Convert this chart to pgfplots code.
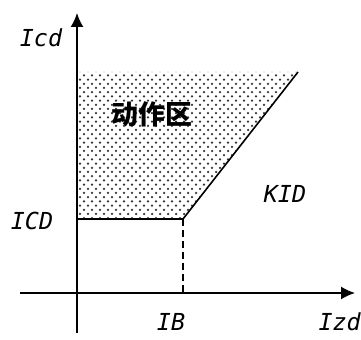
\documentclass[border=0pt]{standalone}
\usepackage{fontspec}
\usepackage{pgfplots}
\pgfplotsset{compat=1.18}
\usetikzlibrary{arrows.meta,patterns.meta}
\newfontfamily\lab{DejaVu Sans Mono}
\newfontfamily\cjk{Noto Sans CJK SC}

\tikzdeclarepattern{
  name=stagdots,
  type=uncolored,
  bottom left={(-1.5bp,-1.5bp)},
  top right={(6.5bp,6.9bp)},
  tile size={(8bp,8.4bp)},
  code={
    \fill (0bp,0bp) circle (1.25bp);
    \fill (4bp,4.2bp) circle (1.25bp);
  }
}
\tikzset{lbl/.style={font=\lab\itshape\fontsize{23.5}{26}\selectfont}}

\begin{document}
\begin{tikzpicture}
\begin{axis}[
    scale only axis,
    width=361bp, height=340bp,
    xmin=0, xmax=361, ymin=0, ymax=340,
    hide axis,
    clip=false,
]

% keep the full frame as the picture's size
\path (axis cs:0,0) rectangle (axis cs:361,340);

% operating region
\addplot[draw=none, pattern=stagdots, pattern color=black!80] coordinates {
    (77,268) (298,268) (183,121) (77,121)
} -- cycle;

% characteristic
\addplot[black, line width=1.6bp] coordinates {(77,121) (183,121) (298,268)};
\addplot[black, line width=1.4bp, dash pattern=on 7bp off 4bp] coordinates {(183,121) (183,47)};

% axes
\addplot[black, line width=1.6bp, -{Latex[length=14bp,width=13bp]}] coordinates {(77,7) (77,327)};
\addplot[black, line width=1.6bp, -{Latex[length=14bp,width=13bp]}] coordinates {(20,47) (355,47)};

\node[lbl] at (axis cs:41,302) {Icd};
\node[lbl] at (axis cs:32,119) {ICD};
\node[lbl] at (axis cs:285,146) {KID};
\node[lbl] at (axis cs:171,18) {IB};
\node[lbl, anchor=east, inner sep=0pt] at (axis cs:361,18) {Izd};
\node[font=\cjk\bfseries\fontsize{27}{30}\selectfont] at (axis cs:152,226) {动作区};

\end{axis}
\end{tikzpicture}
\end{document}
